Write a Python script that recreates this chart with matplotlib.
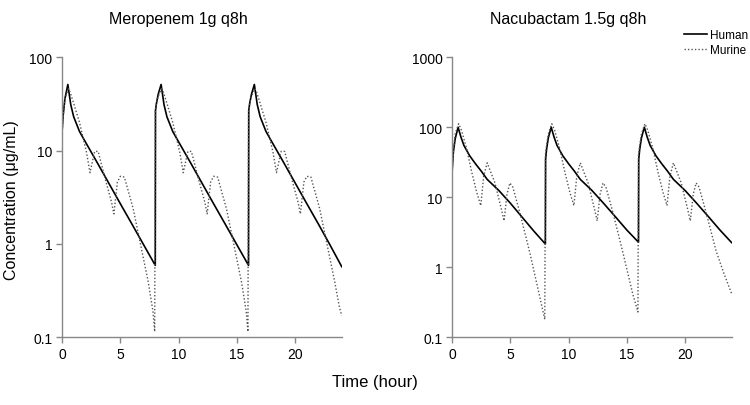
import matplotlib
matplotlib.use("Agg")
import matplotlib.pyplot as plt

plt.rcParams['font.family'] = ['Liberation Sans', 'DejaVu Sans']

# Meropenem 1g q8h
mero_time_h = [0, 0.1, 0.25, 0.5, 0.75, 1, 1.5, 2, 3, 4, 5, 6, 7, 8,
               8.02, 8.1, 8.25, 8.5, 8.75, 9, 9.5, 10, 11, 12, 13, 14, 15, 16,
               16.02, 16.1, 16.25, 16.5, 16.75, 17, 17.5, 18, 19, 20, 21, 22, 23, 24]
mero_human = [15.7, 24, 36, 51, 31, 23, 16, 12.4, 7.5, 4.5, 2.7, 1.63, 0.98, 0.59,
              27, 32, 40, 51, 31, 23, 16, 12.4, 7.5, 4.5, 2.7, 1.63, 0.98, 0.59,
              27, 32, 40, 51, 31, 23, 16, 12.4, 7.5, 4.5, 2.7, 1.63, 0.97, 0.57]

mero_time_m = [0, 0.1, 0.25, 0.55, 0.7, 1.0, 1.5, 2.1, 2.4, 2.8, 3.1, 3.7, 4.25, 4.45,
               4.75, 5.0, 5.35, 6.1, 6.7, 7.4, 7.8, 7.95,
               8.0, 8.1, 8.25, 8.55, 8.7, 9.0, 9.5, 10.1, 10.4, 10.8, 11.1, 11.7, 12.25, 12.45,
               12.75, 13.0, 13.35, 14.1, 14.7, 15.4, 15.8, 15.95,
               16.0, 16.1, 16.25, 16.55, 16.7, 17.0, 17.5, 18.1, 18.4, 18.8, 19.1, 19.7, 20.25, 20.45,
               20.75, 21.0, 21.35, 22.1, 22.7, 23.4, 23.8, 24]
mero_murine = [15, 24, 36, 46, 42, 32, 20, 9.6, 5.8, 9.8, 9.8, 5.0, 2.8, 2.1,
               4.6, 5.3, 5.2, 2.4, 1.04, 0.39, 0.19, 0.115,
               26, 32, 38, 46, 42, 32, 20, 9.6, 5.8, 9.8, 9.8, 5.0, 2.8, 2.1,
               4.6, 5.3, 5.2, 2.4, 1.04, 0.39, 0.19, 0.115,
               26, 32, 38, 46, 42, 32, 20, 9.6, 5.8, 9.8, 9.8, 5.0, 2.8, 2.1,
               4.6, 5.3, 5.2, 2.4, 1.04, 0.39, 0.21, 0.17]

# Nacubactam 1.5g q8h
nacu_time_h = [0, 0.1, 0.25, 0.5, 0.75, 1, 1.5, 2, 2.5, 3, 4, 5, 6, 7, 8,
               8.02, 8.1, 8.25, 8.5, 8.75, 9, 9.5, 10, 10.5, 11, 12, 13, 14, 15, 16,
               16.02, 16.1, 16.25, 16.5, 16.75, 17, 17.5, 18, 18.5, 19, 20, 21, 22, 23, 24]
nacu_human = [25, 45, 68, 100, 72, 55, 39, 30, 23.5, 18, 12.5, 8.2, 5.2, 3.3, 2.15,
              35, 48, 70, 100, 72, 55, 39, 30, 23.5, 18, 12.5, 8.2, 5.3, 3.4, 2.28,
              35, 48, 70, 100, 72, 55, 39, 30, 23.5, 18, 12.5, 8.2, 5.3, 3.4, 2.25]

nacu_time_m = [0, 0.1, 0.25, 0.55, 0.8, 1.24, 1.67, 2.1, 2.45, 2.7, 3.0, 3.67, 4.2, 4.45,
               4.7, 4.95, 5.2, 5.8, 6.67, 7.5, 7.95,
               8.0, 8.1, 8.25, 8.55, 8.8, 9.24, 9.67, 10.1, 10.45, 10.7, 11.0, 11.67, 12.2, 12.45,
               12.7, 12.95, 13.2, 13.8, 14.67, 15.5, 15.95,
               16.0, 16.1, 16.25, 16.55, 16.8, 17.24, 17.67, 18.1, 18.45, 18.7, 19.0, 19.67, 20.2, 20.45,
               20.7, 20.95, 21.2, 21.8, 22.67, 23.3, 24]
nacu_murine = [25, 45, 80, 112, 90, 49, 23, 11.8, 7.6, 20, 31, 16, 7, 4.6,
               11, 16, 14, 6.1, 1.6, 0.39, 0.18,
               40, 55, 80, 112, 90, 49, 23, 11.8, 7.6, 20, 31, 16, 7, 4.6,
               11, 16, 14, 6.1, 1.6, 0.42, 0.23,
               40, 55, 80, 112, 90, 49, 23, 11.8, 7.6, 20, 31, 16, 7, 4.6,
               11, 16, 14, 6.1, 1.7, 0.85, 0.42]

panels = [
    ("Meropenem 1g q8h", mero_time_h, mero_human, mero_time_m, mero_murine,
     [0.1, 1, 10, 100], ["0.1", "1", "10", "100"]),
    ("Nacubactam 1.5g q8h", nacu_time_h, nacu_human, nacu_time_m, nacu_murine,
     [0.1, 1, 10, 100, 1000], ["0.1", "1", "10", "100", "1000"]),
]

fig = plt.figure(figsize=(7.5, 4.06), dpi=100)
axes = [fig.add_axes([0.0827, 0.1667, 0.373, 0.69]),
        fig.add_axes([0.603, 0.1667, 0.3725, 0.69])]
title_x = [178 / 750, 568 / 750]

for ax, (title, th, ch, tm, cm, yt, ytl), tx in zip(axes, panels, title_x):
    ax.plot(th, ch, color='black', lw=1.2, label='Human')
    ax.plot(tm, cm, color='#555555', lw=1.0, linestyle=(0, (1, 1.5)), label='Murine')
    ax.set_yscale('log')
    ax.set_xlim(0, 24)
    ax.set_ylim(yt[0], yt[-1])
    ax.set_yticks(yt)
    ax.set_yticklabels(ytl)
    ax.minorticks_off()
    ax.set_xticks([0, 5, 10, 15, 20])
    for s in ['top', 'right']:
        ax.spines[s].set_visible(False)
    for s in ['left', 'bottom']:
        ax.spines[s].set_color('#888888')
        ax.spines[s].set_linewidth(1.0)
    ax.tick_params(direction='out', length=4, width=1, color='#888888',
                   labelsize=10, pad=3)
    fig.text(tx, 0.951, title, ha='center', va='center', fontsize=11.5)

fig.text(0.016, 0.507, "Concentration (\u03bcg/mL)", rotation=90,
         ha='center', va='center', fontsize=11.5)
fig.text(0.5, 0.057, "Time (hour)", ha='center', va='center', fontsize=12)

handles, labels = axes[1].get_legend_handles_labels()
fig.legend(handles, labels, loc='upper left', bbox_to_anchor=(678 / 750, 1 - 24 / 406),
           frameon=False, fontsize=8.5, handlelength=1.95, handletextpad=0.3,
           borderpad=0, labelspacing=0.3)

fig.savefig("out.png", dpi=100)
